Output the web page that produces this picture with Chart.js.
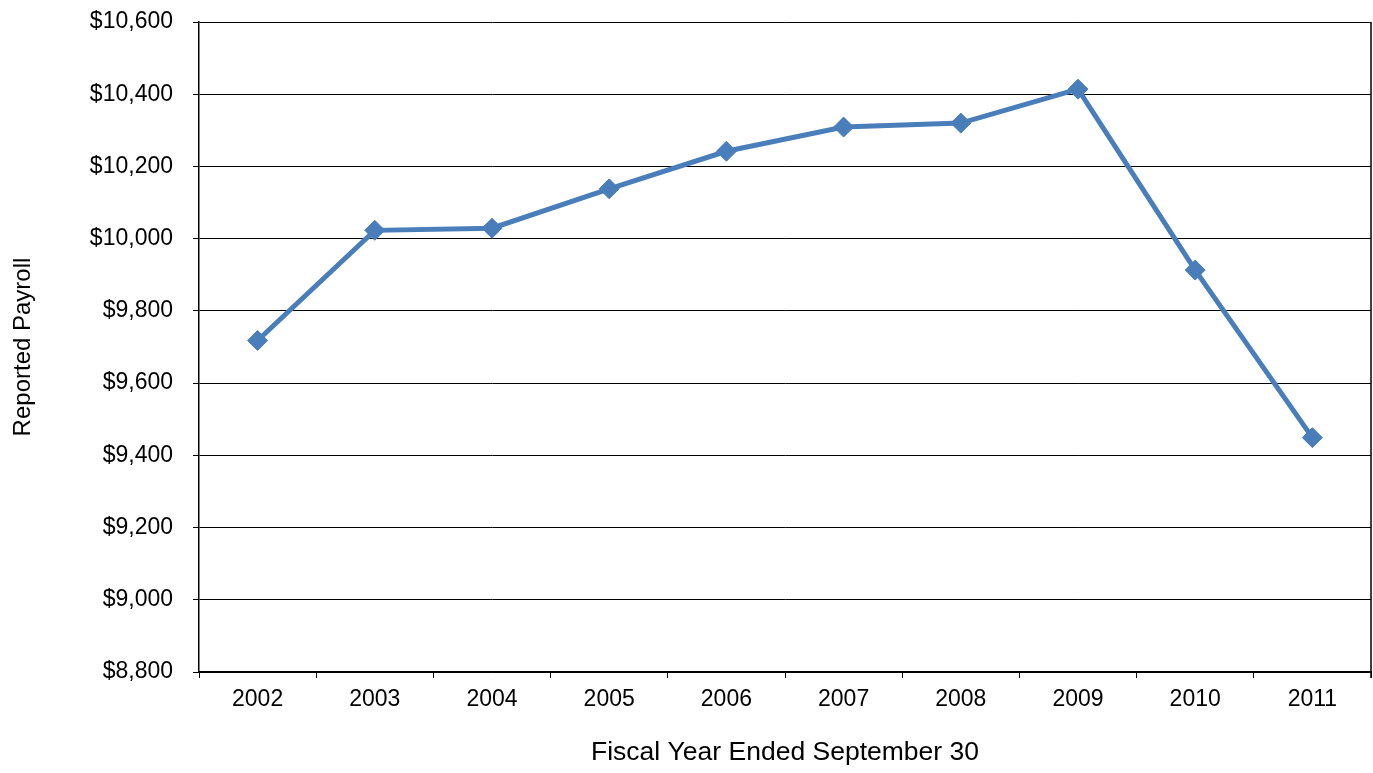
<!DOCTYPE html>
<html>
<head>
<meta charset="utf-8">
<script src="https://cdn.jsdelivr.net/npm/chart.js@4/dist/chart.umd.min.js"></script>
<style>
  html, body { margin: 0; padding: 0; background: #ffffff; }
  #wrap { width: 1373px; height: 773px; position: relative; }
</style>
</head>
<body>
<div id="wrap"><canvas id="c"></canvas></div>
<script>
const years = ['2002', '2003', '2004', '2005', '2006', '2007', '2008', '2009', '2010', '2011'];
const payroll = [9718, 10023, 10029, 10138, 10242, 10309, 10320, 10414, 9913, 9449];
const yMin = 8800;
const yMax = 10600;
const yStep = 200;
const xTitle = 'Fiscal Year Ended September 30';
const yTitle = 'Reported Payroll';

const lineColor = '#4A7EBB';
const fontFamily = '"Liberation Sans", Arial, sans-serif';

function fmtDollar(v) {
  return '$' + String(Math.round(v)).replace(/\B(?=(\d{3})+(?!\d))/g, ',');
}

const rightBorder = {
  id: 'rightBorder',
  afterDraw(chart) {
    const { ctx, chartArea } = chart;
    ctx.save();
    ctx.strokeStyle = '#000000';
    ctx.lineWidth = 1.5;
    ctx.beginPath();
    ctx.moveTo(chartArea.right, chartArea.top);
    ctx.lineTo(chartArea.right, chartArea.bottom + 6);
    ctx.stroke();
    ctx.restore();
  }
};

new Chart(document.getElementById('c'), {
  type: 'line',
  data: {
    labels: years,
    datasets: [{
      data: payroll,
      borderColor: lineColor,
      backgroundColor: lineColor,
      borderWidth: 5,
      tension: 0,
      pointStyle: 'rectRot',
      pointRadius: 10,
      pointBorderWidth: 1,
      pointBackgroundColor: lineColor,
      pointBorderColor: lineColor,
      fill: false
    }]
  },
  options: {
    responsive: true,
    maintainAspectRatio: false,
    animation: false,
    layout: { autoPadding: false, padding: { top: 22, right: 2, left: 0, bottom: 0 } },
    plugins: {
      legend: { display: false },
      tooltip: { enabled: false }
    },
    scales: {
      x: {
        offset: true,
        grid: {
          offset: true,
          drawOnChartArea: false,
          drawTicks: true,
          tickLength: 6,
          color: '#000000',
          lineWidth: 1
        },
        border: { display: true, color: '#000000', width: 1.5 },
        ticks: {
          color: '#000000',
          padding: 8,
          maxRotation: 0,
          font: { family: fontFamily, size: 23 }
        },
        title: {
          display: true,
          text: xTitle,
          color: '#000000',
          padding: { top: 0, bottom: 4 },
          font: { family: fontFamily, size: 26.5 }
        },
        afterFit(scale) {
          scale.height = 101;
          scale.paddingLeft = 0;
          scale.paddingRight = 0;
        }
      },
      y: {
        min: yMin,
        max: yMax,
        grid: {
          color: '#000000',
          lineWidth: 1,
          drawTicks: true,
          tickLength: 6
        },
        border: { display: true, color: '#000000', width: 1.5 },
        ticks: {
          stepSize: yStep,
          color: '#000000',
          padding: 20,
          font: { family: fontFamily, size: 23 },
          callback: (v) => fmtDollar(v)
        },
        title: {
          display: true,
          text: yTitle,
          color: '#000000',
          padding: { top: 9, bottom: 0 },
          font: { family: fontFamily, size: 24 }
        },
        afterFit(scale) {
          scale.width = 199;
          scale.paddingTop = 0;
          scale.paddingBottom = 0;
        }
      }
    }
  },
  plugins: [rightBorder]
});
</script>
</body>
</html>
